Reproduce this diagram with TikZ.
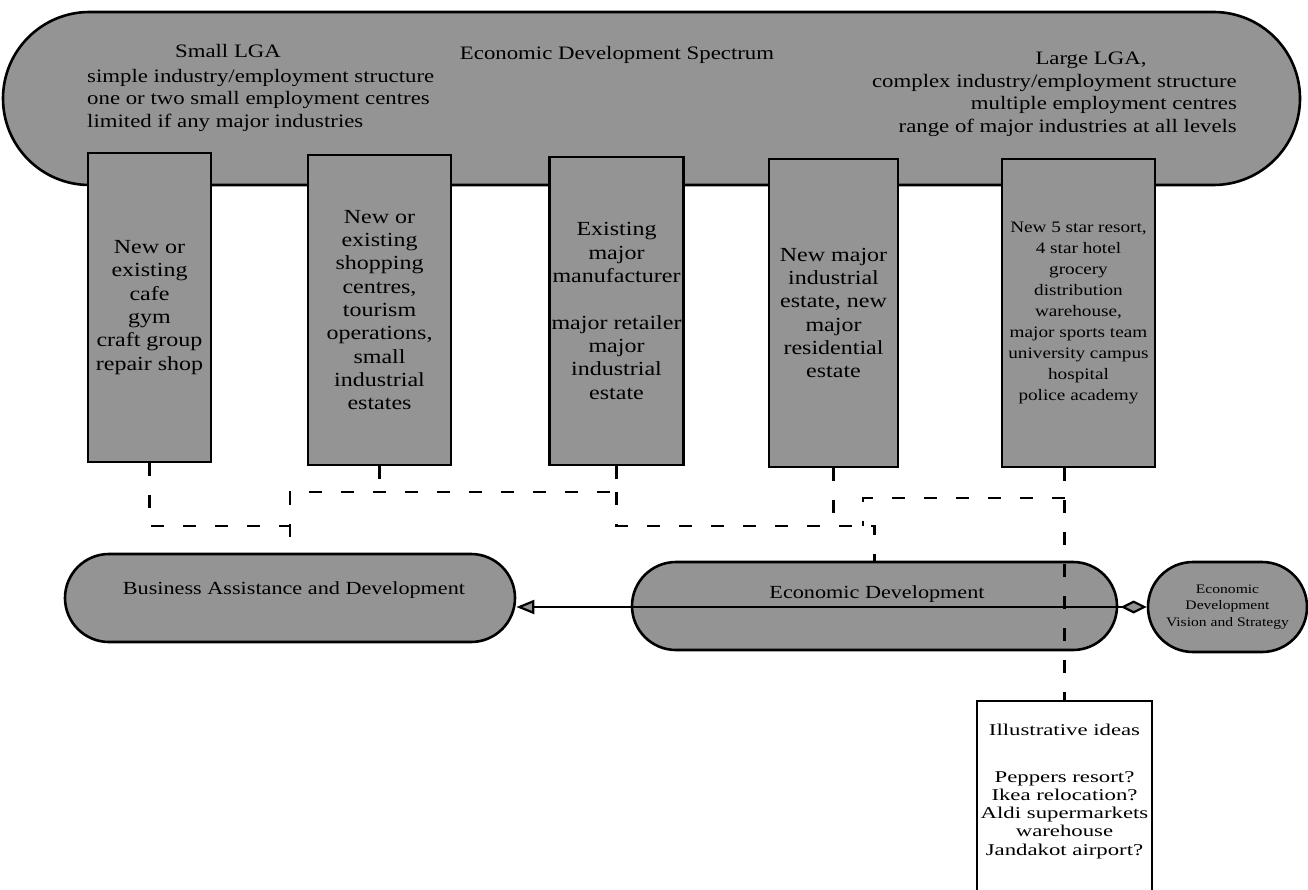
\documentclass[tikz,border=0pt]{standalone}
\usepackage{fontspec}
\setmainfont[FakeStretch=1.2]{Liberation Serif}
\newfontfamily\illfont[FakeStretch=1.38]{Liberation Serif}
\usetikzlibrary{shapes.misc,arrows.meta,calc}
\definecolor{shade}{gray}{0.58}
\begin{document}
\begin{tikzpicture}[x=1pt,y=-1pt,
  pill/.style={rounded rectangle, draw=black, line width=2.6pt, fill=shade, inner sep=0pt},
  colbox/.style={rectangle, draw=black, line width=2.4pt, fill=shade, align=center, inner sep=2pt, font=\fontsize{20}{23.3}\selectfont},
  conn/.style={line width=2.4pt, dash pattern=on 13pt off 19pt},
  lbl/.style={font=\fontsize{19}{22.5}\selectfont, inner sep=0pt},
  lblb/.style={font=\fontsize{18.5}{22}\selectfont, inner sep=0pt}]
\clip (0,0) rectangle (1308,890);
\fill[white] (0,0) rectangle (1308,890);

% banner
\node[pill, minimum width=1297pt, minimum height=173pt] (banner) at (651.5,98.5) {};
\node[lbl] (small) at (228,51) {Small LGA};
\node[lbl, anchor=west, align=left] (smalltxt) at (87,100) {simple industry/employment structure\\one or two small employment centres\\limited if any major industries};
\node[lbl] (spec) at (617,55) {Economic Development Spectrum};
\node[lbl] (large) at (1091,60) {Large LGA,};
\node[lbl, anchor=east, align=right] (largetxt) at (1237,105) {complex industry/employment structure\\multiple employment centres\\range of major industries at all levels};

% columns
\node[colbox, minimum width=123pt, minimum height=309pt] (b1) at (149.5,307.5) {New or\\existing\\cafe\\gym\\craft group\\repair shop};
\node[colbox, minimum width=143pt, minimum height=310pt] (b2) at (379.5,310) {New or\\existing\\shopping\\centres,\\tourism\\operations,\\small\\industrial\\estates};
\node[colbox, minimum width=133pt, minimum height=308pt] (b3) at (616.5,311) {Existing\\major\\manufacturer\\[23.3pt]major retailer\\major\\industrial\\estate};
\node[colbox, minimum width=129pt, minimum height=308pt] (b4) at (833.5,313) {New major\\industrial\\estate, new\\major\\residential\\estate};
\node[colbox, minimum width=153pt, minimum height=308pt, font=\fontsize{16}{21}\selectfont] (b5) at (1078.5,313) {New 5 star resort,\\4 star hotel\\grocery\\distribution\\warehouse,\\major sports team\\university campus\\hospital\\police academy};

% bottom pills
\node[pill, minimum width=450pt, minimum height=88pt] (BA) at (290,598) {};
\node[pill, minimum width=485pt, minimum height=88pt] (ED) at (874.5,606) {};
\node[pill, minimum width=159pt, minimum height=90pt, align=center, font=\fontsize{13}{16.7}\selectfont] (VS) at (1227.5,607) {Economic\\Development\\Vision and Strategy};

% illustrative box
\node[rectangle, draw=black, line width=1.8pt, fill=white, minimum width=175pt, minimum height=200pt, anchor=north] (IL) at (1064.5,700) {};
\node[inner sep=0pt, anchor=north, align=center, font=\illfont\fontsize{16.5}{18.2}\selectfont] (ILt) at ([yshift=-24pt]IL.north) {Illustrative ideas\\[28.5pt]Peppers resort?\\Ikea relocation?\\Aldi supermarkets\\warehouse\\Jandakot airport?};

% connectors
\coordinate (rA) at (0,492);
\coordinate (rB) at (0,526);
\coordinate (rD) at (0,498);
\coordinate (jx) at (863,0);
\draw[conn] (b3.south) |- (BA.north |- rA) -- (BA.north);
\draw[conn] (b2.south) -- (b2.south |- rA);
\draw[conn] (b1.south) |- (BA.north |- rB);
\draw[conn] (b3.south |- rA) |- (ED.north |- rB) -- (ED.north);
\draw[conn] (b4.south) -- (b4.south |- rB);
\draw[conn] (IL.north |- b5.south) -- (IL.north);
\draw[conn] (IL.north |- rD) -| (jx |- rB);

% arrow
\draw[line width=2.2pt, {Diamond[length=26pt,width=13pt,fill=shade]}-{Triangle[length=18pt,width=14pt,fill=shade]}] (VS.west) -- (VS.west -| BA.east);

% pill labels
\node[lblb] (BAt) at (294,590) {Business Assistance and Development};
\node[lblb] (EDt) at (877,594) {Economic Development};
\end{tikzpicture}
\end{document}
